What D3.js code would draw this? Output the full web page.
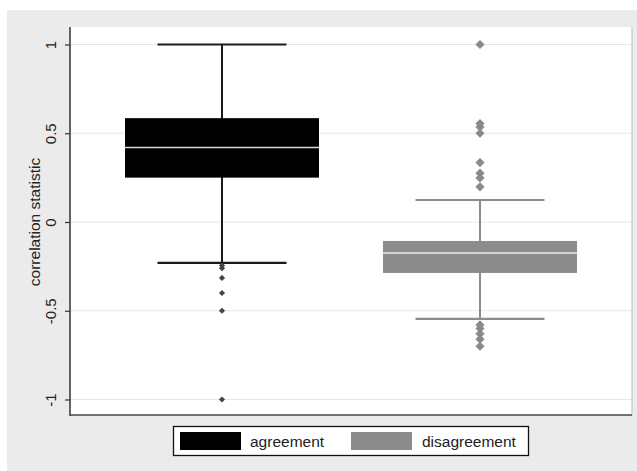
<!DOCTYPE html>
<html><head><meta charset="utf-8">
<script src="https://d3js.org/d3.v7.min.js"></script>
<style>body{margin:0;background:#fff}svg{display:block}text{font-family:"Liberation Sans",Arial,sans-serif}</style>
</head><body>
<script>
const categories = ["agreement", "disagreement"];
const q1 = [0.25, -0.287];
const medians = [0.42, -0.175];
const q3 = [0.585, -0.107];
const whiskerLow = [-0.23, -0.546];
const whiskerHigh = [1.0, 0.124];
const outliersAgreement = [-0.245, -0.26, -0.315, -0.40, -0.50, -1.0];
const outliersDisagreement = [1.0, 0.555, 0.535, 0.50, 0.335, 0.275, 0.248, 0.198, -0.58, -0.60, -0.63, -0.66, -0.70];
const yTicks = [1, 0.5, 0, -0.5, -1];
const yTickLabels = ["1", "0.5", "0", "-0.5", "-1"];
const boxColors = ["#000000", "#8c8c8c"];
const outlierColors = ["#444444", "#8a8a8a"];

const W = 637, H = 471;
const svg = d3.select("body").append("svg").attr("width", W).attr("height", H);
svg.append("rect").attr("x", 7).attr("y", 10).attr("width", W - 7).attr("height", H - 10).attr("fill", "#ebebeb");

const plot = {l: 70, r: 632, t: 27, b: 415};
svg.append("rect").attr("x", plot.l).attr("y", plot.t).attr("width", plot.r - plot.l).attr("height", plot.b - plot.t).attr("fill", "#fff");

const y = d3.scaleLinear().domain([-1, 1]).range([399.5, 44.5]);
const x = d3.scalePoint().domain(categories).range([222, 480]);

// gridlines
svg.append("g").selectAll("line").data(yTicks).join("line")
  .attr("x1", plot.l).attr("x2", plot.r).attr("y1", d => y(d)).attr("y2", d => y(d))
  .attr("stroke", "#e6e6e6").attr("stroke-width", 1.2);

// right frame
svg.append("line").attr("x1", plot.r).attr("x2", plot.r).attr("y1", plot.t).attr("y2", plot.b).attr("stroke", "#bdbdbd").attr("stroke-width", 1);

// y axis
const yAxis = d3.axisLeft(y).tickValues(yTicks).tickFormat((d, i) => yTickLabels[i]).tickSize(5).tickPadding(0);
const gy = svg.append("g").attr("transform", `translate(${plot.l},0)`).call(yAxis);
gy.select(".domain").remove();
gy.selectAll(".tick line").attr("stroke", "#333").attr("stroke-width", 1.2);
gy.selectAll(".tick text")
  .attr("x", 0).attr("y", 0).attr("dy", 0)
  .attr("transform", "translate(-14,0) rotate(-90)")
  .attr("text-anchor", "middle")
  .attr("font-size", 15).attr("fill", "#222");
svg.append("line").attr("x1", plot.l).attr("x2", plot.l).attr("y1", plot.t).attr("y2", plot.b + 1).attr("stroke", "#333").attr("stroke-width", 1.5);
svg.append("line").attr("x1", plot.l).attr("x2", plot.r).attr("y1", plot.b).attr("y2", plot.b).attr("stroke", "#444").attr("stroke-width", 1.5);

svg.append("text").attr("transform", `translate(40,${y(0)}) rotate(-90)`)
  .attr("text-anchor", "middle").attr("font-size", 15.5).attr("fill", "#222").text("correlation statistic");

const boxHalf = 97, capHalf = 64.5;
categories.forEach((c, i) => {
  const cx = x(c), col = boxColors[i];
  const g = svg.append("g");
  g.append("line").attr("x1", cx).attr("x2", cx).attr("y1", y(whiskerHigh[i])).attr("y2", y(whiskerLow[i]))
    .attr("stroke", i === 0 ? "#1a1a1a" : col).attr("stroke-width", 2);
  [whiskerHigh[i], whiskerLow[i]].forEach(v => {
    g.append("line").attr("x1", cx - capHalf).attr("x2", cx + capHalf).attr("y1", y(v)).attr("y2", y(v))
      .attr("stroke", i === 0 ? "#1a1a1a" : col).attr("stroke-width", 2.2);
  });
  g.append("rect").attr("x", cx - boxHalf).attr("width", 2 * boxHalf)
    .attr("y", y(q3[i])).attr("height", y(q1[i]) - y(q3[i])).attr("fill", col);
  g.append("line").attr("x1", cx - boxHalf).attr("x2", cx + boxHalf).attr("y1", y(medians[i])).attr("y2", y(medians[i]))
    .attr("stroke", i === 0 ? "#d8d8d8" : "#e8e8e8").attr("stroke-width", 1.6);
});

const sym = (r) => d3.symbol().type(d3.symbolDiamond2).size(r * r * 2)();
svg.append("g").selectAll("path").data(outliersAgreement).join("path")
  .attr("d", sym(3.5)).attr("transform", d => `translate(${x(categories[0])},${y(d)})`)
  .attr("fill", outlierColors[0]);
svg.append("g").selectAll("path").data(outliersDisagreement).join("path")
  .attr("d", sym(5.2)).attr("transform", d => `translate(${x(categories[1])},${y(d)})`)
  .attr("fill", outlierColors[1]);

// legend
const lg = svg.append("g");
lg.append("rect").attr("x", 173.5).attr("y", 426.5).attr("width", 355).attr("height", 29)
  .attr("fill", "#fff").attr("stroke", "#111").attr("stroke-width", 1.3);
const legX = [180, 351], textX = [250, 422];
categories.forEach((c, i) => {
  lg.append("rect").attr("x", legX[i]).attr("y", 432).attr("width", 61).attr("height", 18).attr("fill", boxColors[i]);
  lg.append("text").attr("x", textX[i]).attr("y", 446.5).attr("font-size", 15.5).attr("fill", "#222").text(c);
});
</script>
</body></html>
